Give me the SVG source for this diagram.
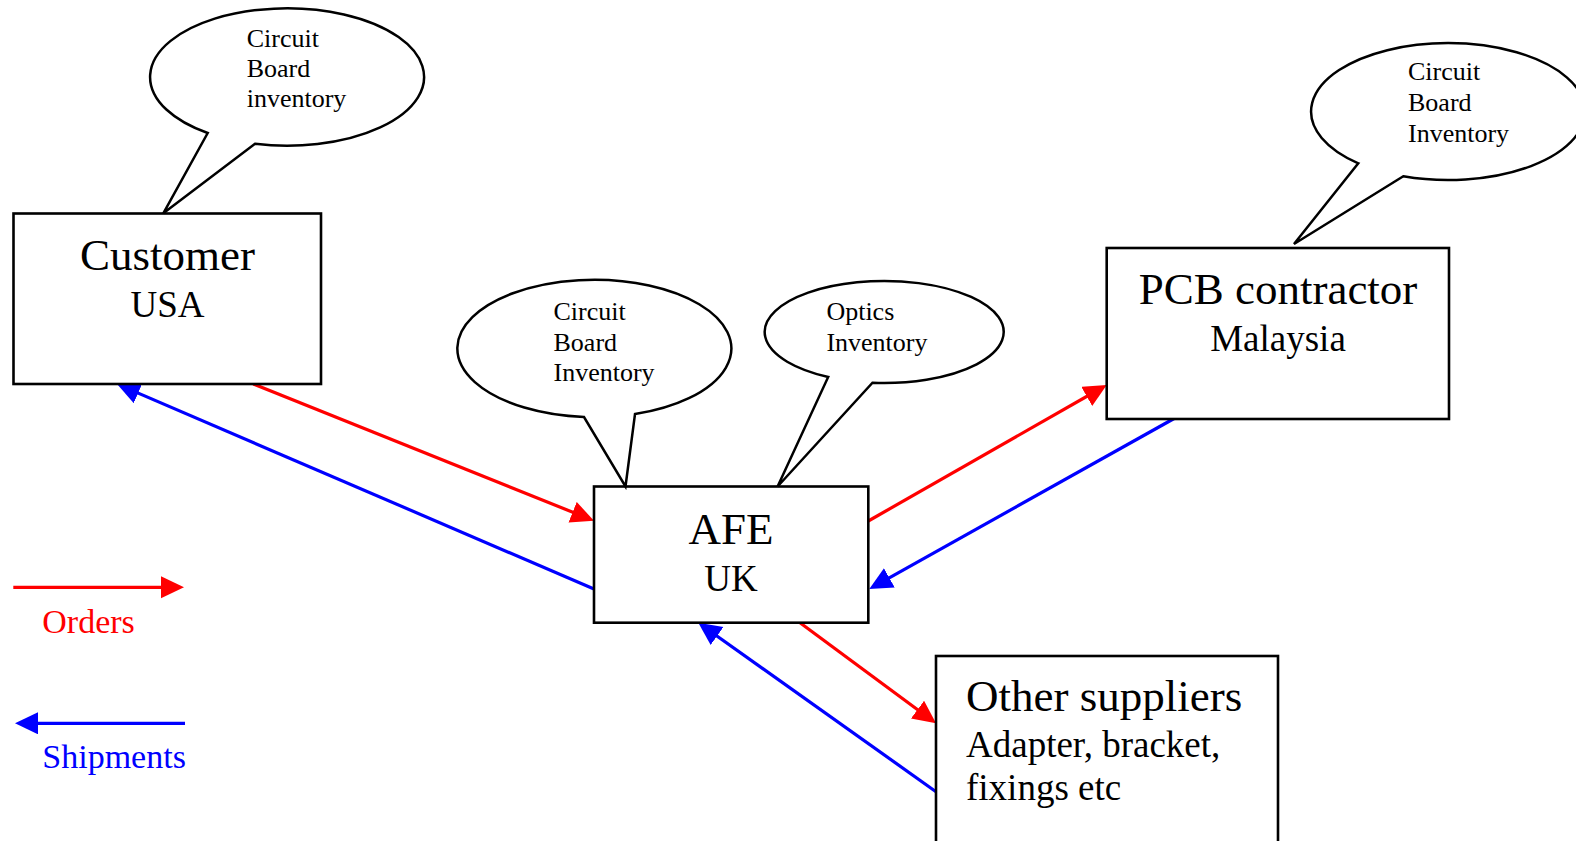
<svg xmlns="http://www.w3.org/2000/svg" width="1576" height="841" viewBox="0 0 1576 841">
<style>
.box{fill:#fff;stroke:#000;stroke-width:2.6}
.bubble{fill:#fff;stroke:#000;stroke-width:2.5;stroke-linejoin:miter}
.t{font-family:"Liberation Serif","Times New Roman",serif;fill:#000}
.title{font-size:45px;text-anchor:middle}
.sub{font-size:37px;text-anchor:middle}
.bt{font-size:26px}
.red{stroke:#FF0000;stroke-width:3.2;fill:none}
.blue{stroke:#0000FF;stroke-width:3.2;fill:none}
</style>
<defs>
<marker id="ar" markerUnits="userSpaceOnUse" markerWidth="26" markerHeight="24" refX="17" refY="11" orient="auto"><path d="M0,0 L23,11 L0,22 z" fill="#FF0000"/></marker>
<marker id="ab" markerUnits="userSpaceOnUse" markerWidth="26" markerHeight="24" refX="17" refY="11" orient="auto"><path d="M0,0 L23,11 L0,22 z" fill="#0000FF"/></marker>
</defs>
<rect width="1576" height="841" fill="#fff"/>

<g id="connectors">
<line class="red" x1="253.3" y1="384" x2="588.4" y2="518.5" marker-end="url(#ar)"/>
<line class="blue" x1="594" y1="589" x2="122.5" y2="386.4" marker-end="url(#ab)"/>
<line class="red" x1="868.3" y1="521" x2="1101.5" y2="388" marker-end="url(#ar)"/>
<line class="blue" x1="1175" y1="418" x2="874.5" y2="586.1" marker-end="url(#ab)"/>
<line class="red" x1="800" y1="622.7" x2="931.2" y2="719.7" marker-end="url(#ar)"/>
<line class="blue" x1="936" y1="791.7" x2="703.2" y2="626.2" marker-end="url(#ab)"/>
</g>

<g id="customer">
<rect class="box" x="13.5" y="213.5" width="307.5" height="170.5"/>
<text class="t title" x="167.5" y="270">Customer</text>
<text class="t sub" x="167.5" y="316.7">USA</text>
</g>

<g id="customer-bubble">
<path class="bubble" d="M207.7,133 A137,68.7 0 1 1 255,143.8 L163.3,213.3 Z"/>
<text class="t bt" x="246.7" y="46.7">Circuit</text>
<text class="t bt" x="246.7" y="77">Board</text>
<text class="t bt" x="246.7" y="107.3">inventory</text>
</g>

<g id="afe">
<rect class="box" x="594" y="486.5" width="274.3" height="136.2"/>
<text class="t title" x="731" y="543.7">AFE</text>
<text class="t sub" x="731" y="591">UK</text>
</g>

<g id="afe-board-bubble">
<path class="bubble" d="M584,417 A137,68.7 0 1 1 635,414.1 L625.5,486.5 Z"/>
<text class="t bt" x="553.5" y="320">Circuit</text>
<text class="t bt" x="553.5" y="350.5">Board</text>
<text class="t bt" x="553.5" y="381">Inventory</text>
</g>

<g id="afe-optics-bubble">
<path class="bubble" d="M828.2,377 A119.5,51 0 1 1 872.5,382.7 L777.6,486.5 Z"/>
<text class="t bt" x="826.4" y="320">Optics</text>
<text class="t bt" x="826.4" y="351">Inventory</text>
</g>

<g id="pcb">
<rect class="box" x="1106.7" y="248" width="342.3" height="171"/>
<text class="t title" x="1278" y="304">PCB contractor</text>
<text class="t sub" x="1278" y="350.7">Malaysia</text>
</g>

<g id="pcb-bubble">
<path class="bubble" d="M1358.3,163.3 A137,68.5 0 1 1 1403.3,176.3 L1294,244 Z"/>
<text class="t bt" x="1408" y="80">Circuit</text>
<text class="t bt" x="1408" y="110.7">Board</text>
<text class="t bt" x="1408" y="141.7">Inventory</text>
</g>

<g id="other">
<rect class="box" x="936" y="656" width="342" height="200"/>
<text class="t" font-size="45" x="966" y="710.7">Other suppliers</text>
<text class="t" font-size="37" x="966" y="757.3">Adapter, bracket,</text>
<text class="t" font-size="37" x="966" y="800">fixings etc</text>
</g>

<g id="legend">
<line class="red" x1="13.3" y1="587.3" x2="178" y2="587.3" marker-end="url(#ar)"/>
<text class="t" font-size="34" x="42.3" y="632.7" style="fill:#FF0000">Orders</text>
<line class="blue" x1="185" y1="723.3" x2="21" y2="723.3" marker-end="url(#ab)"/>
<text class="t" font-size="34" x="42.3" y="768.3" style="fill:#0000FF">Shipments</text>
</g>
</svg>
